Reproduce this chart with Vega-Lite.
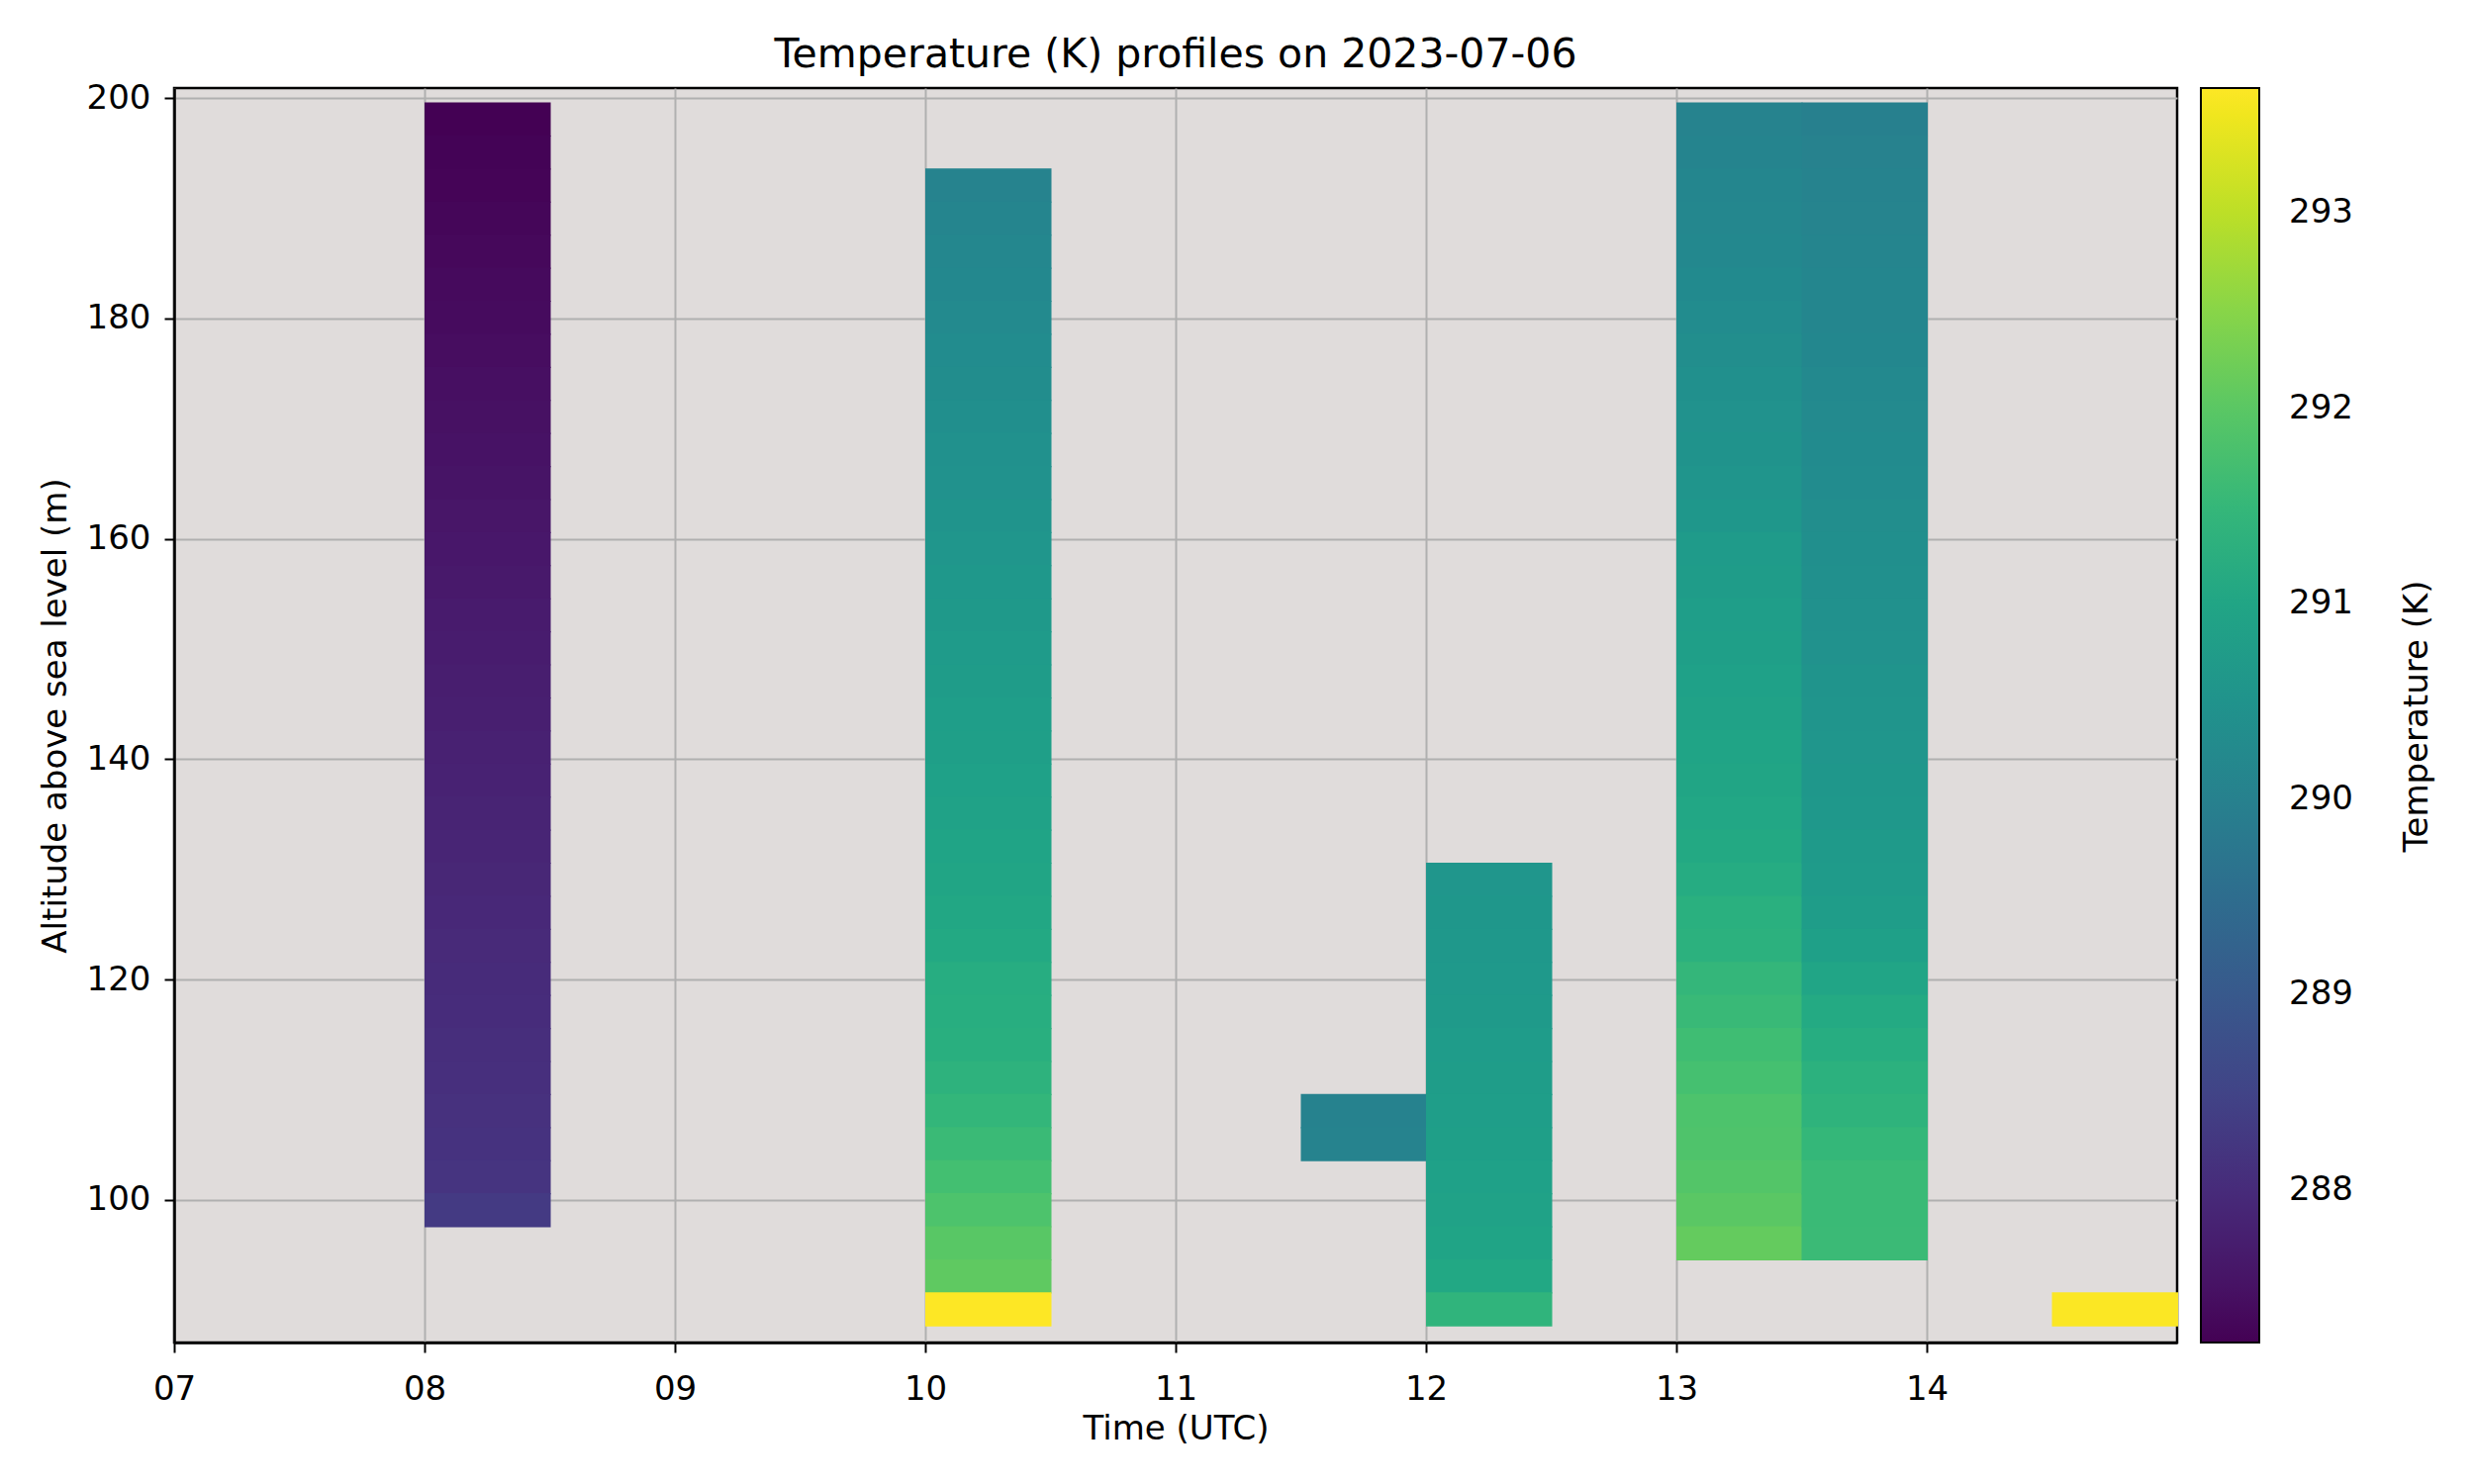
{
  "$schema": "https://vega.github.io/schema/vega-lite/v6.json",
  "autosize": {"type": "none"},
  "padding": {"left": 176, "top": 89, "right": 300, "bottom": 143},
  "width": 2024,
  "height": 1268,
  "background": "white",
  "title": {"text": "Temperature (K) profiles on 2023-07-06", "fontSize": 41, "fontWeight": "normal", "color": "black", "offset": 5, "anchor": "middle"},
  "config": {
    "font": "DejaVu Sans",
    "view": {"fill": "#e0dcdb", "stroke": "black", "strokeWidth": 2.5},
    "axis": {"domainColor": "black", "domainWidth": 2.5, "tickColor": "black", "tickWidth": 2, "tickSize": 10, "labelFontSize": 34, "labelColor": "black", "titleFontSize": 34, "titleFontWeight": "normal", "titleColor": "black", "gridColor": "#b0b0b0", "gridWidth": 2, "labelFlush": false}
  },
  "data": {"values": [
    {"t": 8, "a": 198, "T": 287.22}, {"t": 8, "a": 195, "T": 287.25}, {"t": 8, "a": 192, "T": 287.27}, {"t": 8, "a": 189, "T": 287.30},
    {"t": 8, "a": 186, "T": 287.33}, {"t": 8, "a": 183, "T": 287.36}, {"t": 8, "a": 180, "T": 287.39}, {"t": 8, "a": 177, "T": 287.42},
    {"t": 8, "a": 174, "T": 287.45}, {"t": 8, "a": 171, "T": 287.48}, {"t": 8, "a": 168, "T": 287.51}, {"t": 8, "a": 165, "T": 287.54},
    {"t": 8, "a": 162, "T": 287.57}, {"t": 8, "a": 159, "T": 287.60}, {"t": 8, "a": 156, "T": 287.63}, {"t": 8, "a": 153, "T": 287.66},
    {"t": 8, "a": 150, "T": 287.69}, {"t": 8, "a": 147, "T": 287.72}, {"t": 8, "a": 144, "T": 287.75}, {"t": 8, "a": 141, "T": 287.78},
    {"t": 8, "a": 138, "T": 287.81}, {"t": 8, "a": 135, "T": 287.84}, {"t": 8, "a": 132, "T": 287.87}, {"t": 8, "a": 129, "T": 287.90},
    {"t": 8, "a": 126, "T": 287.93}, {"t": 8, "a": 123, "T": 287.96}, {"t": 8, "a": 120, "T": 287.99}, {"t": 8, "a": 117, "T": 288.02},
    {"t": 8, "a": 114, "T": 288.05}, {"t": 8, "a": 111, "T": 288.08}, {"t": 8, "a": 108, "T": 288.11}, {"t": 8, "a": 105, "T": 288.14},
    {"t": 8, "a": 102, "T": 288.17}, {"t": 8, "a": 99, "T": 288.30},

    {"t": 10, "a": 192, "T": 290.06}, {"t": 10, "a": 189, "T": 290.12}, {"t": 10, "a": 186, "T": 290.18}, {"t": 10, "a": 183, "T": 290.22},
    {"t": 10, "a": 180, "T": 290.26}, {"t": 10, "a": 177, "T": 290.30}, {"t": 10, "a": 174, "T": 290.34}, {"t": 10, "a": 171, "T": 290.38},
    {"t": 10, "a": 168, "T": 290.42}, {"t": 10, "a": 165, "T": 290.47}, {"t": 10, "a": 162, "T": 290.52}, {"t": 10, "a": 159, "T": 290.58},
    {"t": 10, "a": 156, "T": 290.63}, {"t": 10, "a": 153, "T": 290.68}, {"t": 10, "a": 150, "T": 290.72}, {"t": 10, "a": 147, "T": 290.76},
    {"t": 10, "a": 144, "T": 290.80}, {"t": 10, "a": 141, "T": 290.84}, {"t": 10, "a": 138, "T": 290.88}, {"t": 10, "a": 135, "T": 290.92},
    {"t": 10, "a": 132, "T": 290.96}, {"t": 10, "a": 129, "T": 291.00}, {"t": 10, "a": 126, "T": 291.05}, {"t": 10, "a": 123, "T": 291.10},
    {"t": 10, "a": 120, "T": 291.20}, {"t": 10, "a": 117, "T": 291.24}, {"t": 10, "a": 114, "T": 291.27}, {"t": 10, "a": 111, "T": 291.36},
    {"t": 10, "a": 108, "T": 291.46}, {"t": 10, "a": 105, "T": 291.58}, {"t": 10, "a": 102, "T": 291.71}, {"t": 10, "a": 99, "T": 291.84},
    {"t": 10, "a": 96, "T": 291.98}, {"t": 10, "a": 93, "T": 292.06}, {"t": 10, "a": 90, "T": 293.64},

    {"t": 11.5, "a": 108, "T": 290.04}, {"t": 11.5, "a": 105, "T": 290.06},

    {"t": 12, "a": 129, "T": 290.57}, {"t": 12, "a": 126, "T": 290.60}, {"t": 12, "a": 123, "T": 290.63}, {"t": 12, "a": 120, "T": 290.67},
    {"t": 12, "a": 117, "T": 290.70}, {"t": 12, "a": 114, "T": 290.74}, {"t": 12, "a": 111, "T": 290.77}, {"t": 12, "a": 108, "T": 290.80},
    {"t": 12, "a": 105, "T": 290.84}, {"t": 12, "a": 102, "T": 290.88}, {"t": 12, "a": 99, "T": 290.92}, {"t": 12, "a": 96, "T": 290.96},
    {"t": 12, "a": 93, "T": 291.08}, {"t": 12, "a": 90, "T": 291.40},

    {"t": 13, "a": 198, "T": 290.05}, {"t": 13, "a": 195, "T": 290.10}, {"t": 13, "a": 192, "T": 290.14}, {"t": 13, "a": 189, "T": 290.18},
    {"t": 13, "a": 186, "T": 290.22}, {"t": 13, "a": 183, "T": 290.27}, {"t": 13, "a": 180, "T": 290.31}, {"t": 13, "a": 177, "T": 290.36},
    {"t": 13, "a": 174, "T": 290.41}, {"t": 13, "a": 171, "T": 290.46}, {"t": 13, "a": 168, "T": 290.50}, {"t": 13, "a": 165, "T": 290.55},
    {"t": 13, "a": 162, "T": 290.62}, {"t": 13, "a": 159, "T": 290.72}, {"t": 13, "a": 156, "T": 290.76}, {"t": 13, "a": 153, "T": 290.80},
    {"t": 13, "a": 150, "T": 290.84}, {"t": 13, "a": 147, "T": 290.88}, {"t": 13, "a": 144, "T": 290.92}, {"t": 13, "a": 141, "T": 290.96},
    {"t": 13, "a": 138, "T": 291.00}, {"t": 13, "a": 135, "T": 291.04}, {"t": 13, "a": 132, "T": 291.10}, {"t": 13, "a": 129, "T": 291.17},
    {"t": 13, "a": 126, "T": 291.28}, {"t": 13, "a": 123, "T": 291.32}, {"t": 13, "a": 120, "T": 291.48}, {"t": 13, "a": 117, "T": 291.56},
    {"t": 13, "a": 114, "T": 291.65}, {"t": 13, "a": 111, "T": 291.74}, {"t": 13, "a": 108, "T": 291.84}, {"t": 13, "a": 105, "T": 291.86},
    {"t": 13, "a": 102, "T": 291.92}, {"t": 13, "a": 99, "T": 292.00}, {"t": 13, "a": 96, "T": 292.12},

    {"t": 13.5, "a": 198, "T": 289.98}, {"t": 13.5, "a": 195, "T": 290.02}, {"t": 13.5, "a": 192, "T": 290.05}, {"t": 13.5, "a": 189, "T": 290.08},
    {"t": 13.5, "a": 186, "T": 290.11}, {"t": 13.5, "a": 183, "T": 290.14}, {"t": 13.5, "a": 180, "T": 290.17}, {"t": 13.5, "a": 177, "T": 290.20},
    {"t": 13.5, "a": 174, "T": 290.23}, {"t": 13.5, "a": 171, "T": 290.26}, {"t": 13.5, "a": 168, "T": 290.29}, {"t": 13.5, "a": 165, "T": 290.32},
    {"t": 13.5, "a": 162, "T": 290.35}, {"t": 13.5, "a": 159, "T": 290.38}, {"t": 13.5, "a": 156, "T": 290.41}, {"t": 13.5, "a": 153, "T": 290.44},
    {"t": 13.5, "a": 150, "T": 290.47}, {"t": 13.5, "a": 147, "T": 290.51}, {"t": 13.5, "a": 144, "T": 290.55}, {"t": 13.5, "a": 141, "T": 290.59},
    {"t": 13.5, "a": 138, "T": 290.62}, {"t": 13.5, "a": 135, "T": 290.65}, {"t": 13.5, "a": 132, "T": 290.69}, {"t": 13.5, "a": 129, "T": 290.73},
    {"t": 13.5, "a": 126, "T": 290.77}, {"t": 13.5, "a": 123, "T": 290.85}, {"t": 13.5, "a": 120, "T": 290.98}, {"t": 13.5, "a": 117, "T": 291.12},
    {"t": 13.5, "a": 114, "T": 291.21}, {"t": 13.5, "a": 111, "T": 291.32}, {"t": 13.5, "a": 108, "T": 291.39}, {"t": 13.5, "a": 105, "T": 291.49},
    {"t": 13.5, "a": 102, "T": 291.58}, {"t": 13.5, "a": 99, "T": 291.58}, {"t": 13.5, "a": 96, "T": 291.59},

    {"t": 14.5, "a": 90, "T": 293.62}
  ]},
  "transform": [
    {"calculate": "datum.t + 0.504", "as": "t_end"},
    {"calculate": "datum.a - 1.5", "as": "a_lo"},
    {"calculate": "datum.a + 1.6", "as": "a_hi"}
  ],
  "mark": {"type": "rect", "strokeWidth": 0},
  "encoding": {
    "x": {"field": "t", "type": "quantitative",
          "scale": {"domain": [7, 15], "nice": false, "zero": false},
          "axis": {"title": "Time (UTC)", "values": [7, 8, 9, 10, 11, 12, 13, 14], "labelExpr": "datum.value < 10 ? '0' + datum.value : '' + datum.value", "titlePadding": 6, "labelPadding": 20}},
    "x2": {"field": "t_end"},
    "y": {"field": "a_lo", "type": "quantitative",
          "scale": {"domain": [87.05, 200.9], "nice": false, "zero": false},
          "axis": {"title": "Altitude above sea level (m)", "values": [100, 120, 140, 160, 180, 200], "titlePadding": 14, "labelPadding": 14}},
    "y2": {"field": "a_hi"},
    "color": {"field": "T", "type": "quantitative",
              "scale": {"scheme": "viridis", "domain": [287.22, 293.64], "nice": false},
              "legend": {"title": "Temperature (K)", "orient": "right", "offset": 24, "padding": 0,
                         "gradientLength": 1268, "gradientThickness": 59, "gradientStrokeColor": "black", "gradientStrokeWidth": 2,
                         "values": [288, 289, 290, 291, 292, 293], "format": "d", "labelOverlap": false,
                         "labelFontSize": 34, "labelColor": "black", "labelOffset": 30,
                         "titleOrient": "right", "titleAnchor": "middle", "titleLimit": 2000, "titleFontSize": 34, "titleFontWeight": "normal", "titleColor": "black", "titlePadding": 38,
                         "encoding": {"title": {"angle": {"value": 270}, "dy": {"value": 44}}}}}
  }
}
